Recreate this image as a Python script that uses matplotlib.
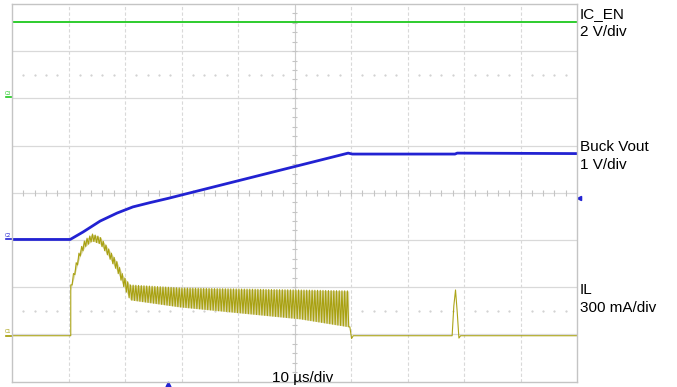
import numpy as np
import matplotlib.pyplot as plt

plt.rcParams['font.family'] = ['Liberation Sans', 'DejaVu Sans']

# scope screen: 10 us/div, 10 x 8 divisions
# channel scale (per div) and ground marker position (div)
en_scale, en_offset = 2.0, 2.02       # V/div
vout_scale, vout_offset = 1.0, -0.99  # V/div
il_scale, il_offset = 300.0, -3.03    # mA/div

# IC_EN (V)
en_t = [0, 100]
en_v = [3.2, 3.2]

# Buck Vout (V)
vout_t = [0, 10.3, 12.6, 15.6, 18.6, 21.4, 24.4, 27.6, 59.5, 60.2, 78.4, 78.8, 100]
vout_v = [0, 0, 0.16, 0.39, 0.56, 0.69, 0.78, 0.87, 1.83, 1.81, 1.81, 1.83, 1.82]

# IL (mA): valley / peak envelope while switching
il_env_t = [10.4, 11.2, 12.0, 12.9, 14.2, 15.6, 17.0, 18.6, 19.7, 20.9, 29.7, 40.4, 51.0, 59.7]
il_env_hi = [323, 444, 545, 609, 647, 628, 558, 469, 380, 323, 304, 297, 291, 285]
il_env_lo = [291, 399, 501, 564, 603, 584, 508, 412, 317, 228, 183, 145, 107, 56]
fsw_period = 0.48  # us

# IL before start and after the buck stops switching
il_pre_t = [0, 10.4]
il_pre_v = [0, 0]
il_post_t = [59.8, 60.1, 60.4, 77.9, 78.2, 78.5, 78.8, 79.1, 79.4, 100]
il_post_v = [56, -18, 0, 0, 190, 291, 150, -15, 0, 0]

# trigger
trig_t = 27.6
trig_level = 0.88  # V on Vout

green = '#1ec81e'
blue = '#2222d2'
olive = '#a39b00'
grid_c = '#d9d9d9'

fig = plt.figure(figsize=(6.77, 3.87), dpi=100)
ax = fig.add_axes([12 / 677, 5.5 / 387, 565 / 677, 377.5 / 387])
ax.set_xlim(0, 100)
ax.set_ylim(-4, 4)
ax.set_xticks([])
ax.set_yticks([])
for s in ax.spines.values():
    s.set_color('#c4c4c4')
    s.set_linewidth(1.0)

# graticule
for i in range(1, 10):
    ax.axvline(i * 10, color=grid_c, lw=0.8, ls=(0, (3, 2)), zorder=0)
for j in [-3, -2, -1, 0, 1, 2, 3]:
    ax.axhline(j, color=grid_c, lw=0.9, zorder=0)
ax.axvline(50, color='#cccccc', lw=0.8, zorder=0)
minor = np.arange(2, 100, 2)
ax.vlines(minor, -0.06, 0.06, color='#c4c4c4', lw=0.8, zorder=0)
minor_y = np.arange(-3.8, 4, 0.2)
ax.hlines(minor_y, 49.5, 50.5, color='#c4c4c4', lw=0.8, zorder=0)
for yy in [2.5, -2.5]:
    dots = [x for x in minor if x % 10 != 0]
    ax.plot(dots, [yy] * len(dots), ls='none', marker='s', ms=0.6, color='#d2d2d2', zorder=0)

# IC_EN
ax.plot(en_t, np.array(en_v) / en_scale + en_offset, color=green, lw=1.3)

# Buck Vout
ax.plot(vout_t, np.array(vout_v) / vout_scale + vout_offset, color=blue, lw=2.0)

# IL: triangle ripple between valley and peak envelope
ts = np.arange(il_env_t[0], il_env_t[-1], fsw_period / 2)
hi = np.interp(ts, il_env_t, il_env_hi)
lo = np.interp(ts, il_env_t, il_env_lo)
ripple = np.where(np.arange(len(ts)) % 2 == 0, hi, lo)
ax.fill_between(ts, lo / il_scale + il_offset, hi / il_scale + il_offset,
                color='#dcd8a8', lw=0, zorder=1)
il_t = np.concatenate([il_pre_t, ts, il_post_t])
il_v = np.concatenate([il_pre_v, ripple, il_post_v])
ax.plot(il_t, il_v / il_scale + il_offset, color=olive, lw=0.8, alpha=0.9, zorder=2)

# channel ground markers on the left
for off, c, name in [(en_offset, green, 'C3'), (vout_offset, blue, 'C2'), (il_offset, olive, 'C1')]:
    ax.plot([-1.0, 0], [off, off], color=c, lw=1.2, clip_on=False)
    ax.text(-1.2, off + 0.04, name, color=c, fontsize=3.5, ha='left', va='bottom', clip_on=False)

# trigger markers
ax.plot([100.35], [(trig_level / vout_scale) + vout_offset], marker='<', ms=3, color=blue, clip_on=False)
ax.plot([trig_t], [-4.06], marker='^', ms=3.5, color=blue, clip_on=False)

# labels
lx = 580 / 677
def label(txt, y_px):
    fig.text(lx, 1 - y_px / 387, txt, fontsize=11, va='baseline', ha='left')

label('IC_EN', 18)
label('2 V/div', 35.5)
label('Buck Vout', 151)
label('1 V/div', 169)
label('IL', 293.5)
label('300 mA/div', 311.5)
fig.text(272 / 677, 1 - 382 / 387, '10 µs/div', fontsize=11, va='baseline', ha='left')

fig.savefig('out.png', dpi=100)
